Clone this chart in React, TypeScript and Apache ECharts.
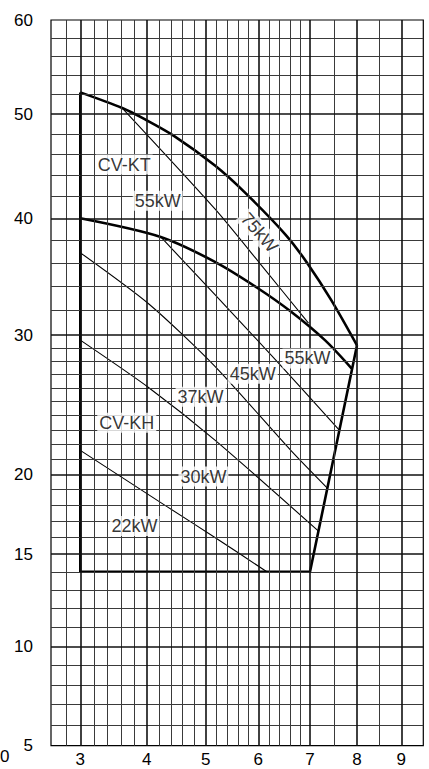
import React, { useEffect, useRef } from "react";
import * as echarts from "echarts";

// ---- Scale calibration of the printed chart (non-standard rulings), axis units ----
const X_SCALE_VALUES = [2.6, 3, 4, 5, 6, 7, 8, 9, 9.5];
const X_SCALE_UNITS = [0, 29.3, 95.7, 154.7, 207.3, 259, 306, 350.3, 372.3];
const Y_SCALE_VALUES = [5, 10, 15, 20, 30, 40, 50, 60];
const Y_SCALE_UNITS = [0, 99, 191.7, 271.4, 410.7, 527.4, 631.7, 725.7];

// ---- Tick labels & rulings ----
const X_TICK_LABELS = [3, 4, 5, 6, 7, 8, 9];
const Y_TICK_LABELS = [5, 10, 15, 20, 30, 40, 50, 60];
const X_MINOR = [2.8, 3.2, 3.4, 3.6, 3.8, 4.2, 4.4, 4.6, 4.8, 5.2, 5.4, 5.6, 5.8, 6.2, 6.4, 6.6, 6.8, 7.5, 8.5];
const X_MAJOR = [3, 4, 5, 6, 7, 8, 9];
const Y_MINOR = [6, 7, 8, 9, 11, 12, 13, 14, 16, 17, 18, 19, 21, 22, 23, 24, 25, 26, 27, 28, 29, 32, 34, 36, 38, 42, 44, 46, 48, 52, 54, 56, 58];
const Y_MAJOR = [10, 15, 20, 30, 40, 50];

// ---- Envelope ----
const FRAME_Q = [3, 3, 7, 8];
const FRAME_H = [52.2, 14, 14, 29.2];
const KT_Q = [3, 3.62, 3.96, 4.45, 5.17, 5.75, 6.52, 6.96, 7.45, 8.0];
const KT_H = [52.2, 50.6, 49.5, 47.8, 44.9, 42.3, 38.5, 35.9, 32.8, 29.2];
const KH_Q = [3, 4.23, 5.17, 5.97, 6.62, 7.31, 7.88];
const KH_H = [40, 38.3, 36.1, 33.9, 31.9, 29.6, 27.45];

// ---- Motor power limit lines ----
const KW22_Q = [3, 4.34, 5.17, 6.16];
const KW22_H = [21.6, 17.9, 16.0, 14];
const KW30_Q = [3, 4.04, 5.17, 7.17];
const KW30_H = [29.6, 26.0, 22.3, 16.4];
const KW37_Q = [3, 4.04, 5.17, 6.62, 7.36];
const KW37_H = [36.9, 32.5, 27.6, 21.6, 19.1];
const KW45_Q = [4.23, 5.17, 6.33, 7.61];
const KW45_H = [38.3, 33.3, 28.07, 23.0];
const KW75_Q = [3.62, 5.17, 6.04, 6.97];
const KW75_H = [50.6, 40.85, 35.9, 30.95];

// ---- Annotations ----
const LABEL_TEXT = ["CV-KT", "55kW", "75kW", "CV-KH", "22kW", "30kW", "37kW", "45kW", "55kW"];
const LABEL_Q = [3.65, 4.18, 6.02, 3.69, 3.81, 4.96, 4.91, 5.89, 6.95];
const LABEL_H = [45.0, 41.6, 38.7, 23.5, 16.7, 19.85, 25.35, 27.05, 28.2];

function makeScale(vals: number[], units: number[], c: number) {
  return (v: number) => {
    let i = 0;
    while (i < vals.length - 2 && v > vals[i + 1]) i++;
    const a = vals[i], b = vals[i + 1];
    const t = (Math.log(v + c) - Math.log(a + c)) / (Math.log(b + c) - Math.log(a + c));
    return units[i] + t * (units[i + 1] - units[i]);
  };
}
const tx = makeScale(X_SCALE_VALUES, X_SCALE_UNITS, 6.7);
const ty = makeScale(Y_SCALE_VALUES, Y_SCALE_UNITS, 34.5);

const pts = (q: number[], h: number[]) => q.map((v, i) => [tx(v), ty(h[i])]);

const FONT = "'Liberation Sans', Arial, sans-serif";

export default function App() {
  const ref = useRef<HTMLDivElement>(null);
  useEffect(() => {
    if (!ref.current) return;
    const chart = echarts.init(ref.current, null, { renderer: "svg" });

    const xLabelUnits = X_TICK_LABELS.map(tx);
    const yLabelUnits = Y_TICK_LABELS.map(ty);
    const nearest = (units: number[], labels: number[], v: number) => {
      let best = 0;
      units.forEach((u, i) => { if (Math.abs(u - v) < Math.abs(units[best] - v)) best = i; });
      return String(labels[best]);
    };

    const minorStyle = { color: "#3a3a3a", width: 1, type: "solid" as const };
    const majorStyle = { color: "#111", width: 1.6, type: "solid" as const };
    const gridData: any[] = [
      ...X_MINOR.map((v) => ({ xAxis: tx(v), lineStyle: minorStyle })),
      ...Y_MINOR.map((v) => ({ yAxis: ty(v), lineStyle: minorStyle })),
      ...X_MAJOR.map((v) => ({ xAxis: tx(v), lineStyle: majorStyle })),
      ...Y_MAJOR.map((v) => ({ yAxis: ty(v), lineStyle: majorStyle })),
    ];

    const thick = { color: "#000", width: 2.6, join: "round" };
    const thin = { color: "#000", width: 1.1 };
    const lineSeries = (name: string, data: number[][], style: any, smooth: number | boolean) => ({
      type: "line",
      name,
      data,
      showSymbol: false,
      symbol: "none",
      smooth,
      lineStyle: style,
      z: 3,
      silent: true,
    });

    const ROTATE: Record<number, number> = { 2: -49 };

    chart.setOption({
      animation: false,
      backgroundColor: "#fff",
      grid: {
        left: 51,
        right: 5.7,
        top: 20,
        bottom: 23.3,
        show: true,
        borderColor: "#000",
        borderWidth: 1.2,
        backgroundColor: "transparent",
        outerBoundsMode: "none",
        containLabel: false,
      },
      xAxis: {
        type: "value",
        min: 0,
        max: X_SCALE_UNITS[X_SCALE_UNITS.length - 1],
        axisLine: { show: false },
        axisTick: { show: false },
        splitLine: { show: false },
        axisLabel: {
          customValues: xLabelUnits,
          formatter: (v: number) => nearest(xLabelUnits, X_TICK_LABELS, v),
          color: "#000",
          fontSize: 17,
          fontFamily: FONT,
          margin: 5,
        },
      },
      yAxis: {
        type: "value",
        min: 0,
        max: Y_SCALE_UNITS[Y_SCALE_UNITS.length - 1],
        axisLine: { show: false },
        axisTick: { show: false },
        splitLine: { show: false },
        axisLabel: {
          customValues: yLabelUnits,
          formatter: (v: number) => nearest(yLabelUnits, Y_TICK_LABELS, v),
          color: "#000",
          fontSize: 17,
          fontFamily: FONT,
          margin: 18,
        },
      },
      series: [
        {
          type: "line",
          name: "rulings",
          data: [],
          silent: true,
          z: 1,
          markLine: {
            silent: true,
            symbol: ["none", "none"],
            label: { show: false },
            emphasis: { disabled: true },
            animation: false,
            data: gridData,
          },
        },
        lineSeries("frame", pts(FRAME_Q, FRAME_H), thick, false),
        lineSeries("CV-KT", pts(KT_Q, KT_H), thick, 0.3),
        lineSeries("CV-KH", pts(KH_Q, KH_H), thick, 0.3),
        lineSeries("22kW", pts(KW22_Q, KW22_H), thin, 0.2),
        lineSeries("30kW", pts(KW30_Q, KW30_H), thin, 0.25),
        lineSeries("37kW", pts(KW37_Q, KW37_H), thin, 0.25),
        lineSeries("45kW", pts(KW45_Q, KW45_H), thin, 0.25),
        lineSeries("75kW", pts(KW75_Q, KW75_H), thin, 0.25),
        {
          type: "scatter",
          name: "labels",
          symbolSize: 1,
          itemStyle: { color: "rgba(0,0,0,0)" },
          z: 10,
          silent: true,
          data: LABEL_TEXT.map((t, i) => ({
            name: t,
            value: [tx(LABEL_Q[i]), ty(LABEL_H[i])],
            label: { rotate: ROTATE[i] || 0 },
          })),
          label: {
            show: true,
            position: "inside",
            formatter: "{b}",
            color: "#000",
            textBorderWidth: 0,
            fontSize: 18,
            fontFamily: FONT,
            backgroundColor: "#fff",
            padding: [1, 2],
          },
        },
      ],
      graphic: [
        {
          type: "text",
          left: 0,
          top: 748,
          style: { text: "0", fontSize: 17, fontFamily: FONT, fill: "#000" },
          silent: true,
        },
      ],
    });

    return () => chart.dispose();
  }, []);

  return (
    <div
      ref={ref}
      style={{ position: "fixed", left: 0, top: 0, width: 429, height: 769, background: "#fff" }}
    />
  );
}
